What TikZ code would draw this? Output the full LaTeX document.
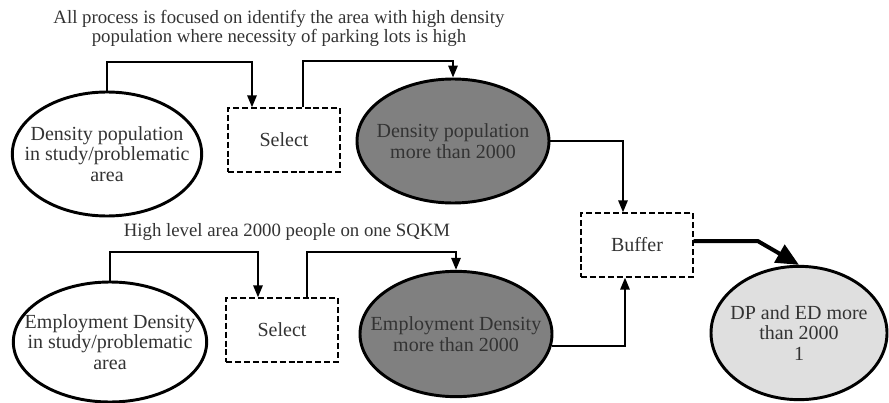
\documentclass[tikz,border=0pt]{standalone}
\usepackage{fontspec}
\setmainfont{Liberation Serif}
\usetikzlibrary{shapes.geometric, arrows.meta, positioning, calc}

\begin{document}
\begin{tikzpicture}[x=0.75pt, y=-0.75pt, thick,
    oval/.style={draw, ellipse, line width=2.2pt, align=center, inner xsep=-18pt, inner ysep=0pt, font=\fontsize{15}{15.6}\selectfont, text=black!80},
    dbox/.style={draw, rectangle, dash pattern=on 4.5pt off 2.2pt, line width=1pt, minimum width=84pt, minimum height=48pt, font=\fontsize{15}{15.6}\selectfont, text=black!80},
    conn/.style={line width=1.5pt, -{Triangle[length=9pt,width=7pt]}},
    note/.style={align=center, font=\fontsize{14.1}{14.3}\selectfont, text=black!80}]
    \useasboundingbox (0,0) rectangle (889,403);

    % Density population row
    \node[oval, minimum width=142pt, minimum height=93pt] (DPin) at (107,154) {Density population\\in study/problematic\\area};
    \node[dbox] (Sel1) at (284,140) {Select};
    \node[oval, fill=gray, minimum width=144pt, minimum height=93pt] (DP2k) at (453,141) {Density population\\more than 2000};

    % Employment density row
    \node[oval, minimum width=145pt, minimum height=90pt] (EDin) at (110,342) {Employment Density\\in study/problematic\\area};
    \node[dbox] (Sel2) at (282,330) {Select};
    \node[oval, fill=gray, minimum width=144pt, minimum height=94pt] (ED2k) at (456,334) {Employment Density\\more than 2000};

    % Buffer and result
    \node[dbox] (Buf) at (637,245) {Buffer};
    \node[oval, fill=gray!25, minimum width=132pt, minimum height=100pt] (Res) at (799,333) {DP and ED more\\than 2000\\1};

    % Notes
    \node[note] (Note1) at (279,28) {All process is focused on identify the area with high density\\population where necessity of parking lots is high};
    \node[note] (Note2) at (287,232) {High level area 2000 people on one SQKM};

    % Connectors
    \draw[conn] (DPin.north) -- ++(0,-29) -| ([xshift=-24pt]Sel1.north);
    \draw[conn] ([xshift=14pt]Sel1.north) -- ++(0,-46) -| (DP2k.north);
    \draw[conn] (EDin.north) -- ++(0,-29) -| ([xshift=-18pt]Sel2.north);
    \draw[conn] ([xshift=19pt]Sel2.north) -- ++(0,-45) -| (ED2k.north);
    \draw[conn] (DP2k.east) -| ([xshift=-10.5pt]Buf.north);
    \draw[conn] (ED2k.-7) -| ([xshift=-9pt]Buf.south);
    \draw[line width=3pt, -{Triangle[length=17pt,width=15pt]}] ([yshift=3pt]Buf.east) -- ++(64,0) -- (Res.north);
\end{tikzpicture}
\end{document}
